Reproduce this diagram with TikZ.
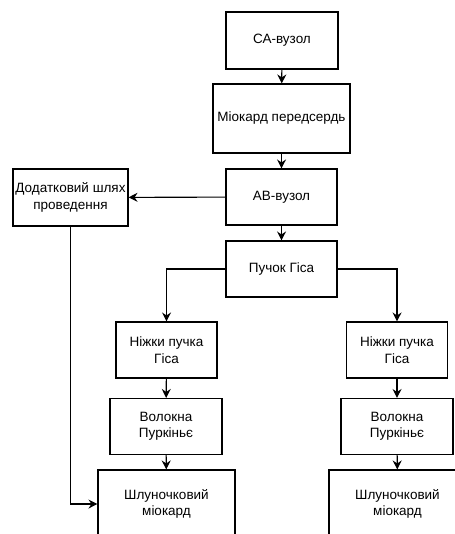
\documentclass[tikz,border=0pt]{standalone}
\usepackage{fontspec}
\setmainfont{Liberation Sans}
\usetikzlibrary{arrows.meta}
\begin{document}
\begin{tikzpicture}[x=1pt,y=-1pt,
  box/.style={draw,line width=1.1pt,align=center,inner sep=1pt,font=\fontsize{13.5}{16.5}\selectfont},
  conn/.style={line width=1.1pt,-{Stealth[length=9pt,width=9pt,inset=3pt]}}]
\useasboundingbox (0,0) rectangle (454,534);
\node[box,minimum width=112pt,minimum height=57pt] (sa) at (282,40.5) {СА-вузол};
\node[box,minimum width=137pt,minimum height=69pt] (mio) at (281.5,118.5) {Міокард передсердь};
\node[box,minimum width=111pt,minimum height=56pt] (av) at (281.5,197) {АВ-вузол};
\node[box,minimum width=115pt,minimum height=57pt] (dod) at (70.5,197.5) {Додатковий шлях\\проведення};
\node[box,minimum width=111pt,minimum height=56pt] (puch) at (281.5,269) {Пучок Гіса};
\node[box,minimum width=101pt,minimum height=56pt] (nl) at (166.5,350) {Ніжки пучка\\Гіса};
\node[box,minimum width=101pt,minimum height=56pt] (nr) at (397,350) {Ніжки пучка\\Гіса};
\node[box,minimum width=112pt,minimum height=56pt] (vl) at (166,426.5) {Волокна\\Пуркіньє};
\node[box,minimum width=112pt,minimum height=56pt] (vr) at (397,426.5) {Волокна\\Пуркіньє};
\node[box,minimum width=137pt,minimum height=68pt] (sl) at (166.5,504) {Шлуночковий\\міокард};
\node[box,minimum width=137pt,minimum height=68pt] (sr) at (397.5,504) {Шлуночковий\\міокард};
\draw[conn] (sa) -- (mio);
\draw[conn] (mio) -- (av);
\draw[conn] (av) -- (dod);
\draw[conn] (av) -- (puch);
\draw[conn] (puch.west) -| (nl.north);
\draw[conn] (puch.east) -| (nr.north);
\draw[conn] (nl) -- (vl);
\draw[conn] (nr) -- (vr);
\draw[conn] (vl) -- (sl);
\draw[conn] (vr) -- (sr);
\draw[conn] (dod.south) |- (sl.west);
\end{tikzpicture}
\end{document}
